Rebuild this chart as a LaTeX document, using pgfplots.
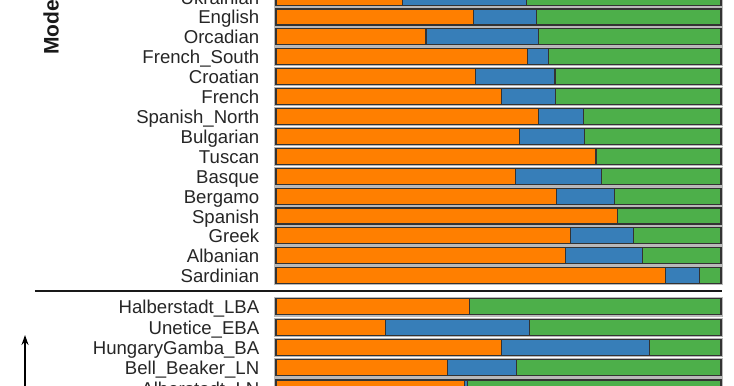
\documentclass[border=0pt]{standalone}
\usepackage{pgfplots}
\pgfplotsset{compat=1.18}
\usepackage{pgfplotstable}
\usepackage{fontspec}
\setmainfont{Liberation Sans}
\usetikzlibrary{arrows.meta}
\definecolor{cOr}{HTML}{FF7F00}
\definecolor{cBl}{HTML}{377EB8}
\definecolor{cGr}{HTML}{4DAF4A}

\pgfplotstableread{
y      orange blue green total
2.9    28.5   27.8 43.7  100
-17    44.3   14.3 41.4  100
-36.9  33.7   25.2 41.1  100
-56.8  56.6   4.6  38.8  100
-76.7  44.9   17.8 37.3  100
-96.6  50.6   12.3 37.1  100
-116.5 58.9   10.2 30.9  100
-136.4 54.8   14.6 30.6  100
-156.3 71.9   0    28.1  100
-176.2 53.9   19.3 26.8  100
-196.1 63.1   12.9 24.0  100
-216   76.8   0    23.2  100
-235.9 66.2   14.1 19.7  100
-255.8 65.0   17.4 17.6  100
-275.7 87.6   7.5  4.9   100
-306.8 43.4   0    56.6  100
-327.2 24.6   32.3 43.1  100
-347.6 50.6   33.4 16.0  100
-367.8 38.5   15.6 45.9  100
-388   42.4   0.6  57.0  100
}\data

\pgfplotsset{base/.style={
  x=4.45pt, y=1pt, xmin=0, xmax=100, ymin=-400, ymax=10,
  anchor=origin, at={(0,0)}, clip=false,
  axis line style={draw=none}, tick style={draw=none},
  xtick=\empty,
}}

\begin{document}
\begin{tikzpicture}
\begin{axis}[base, ytick=\empty, xbar, bar width=16pt]
\addplot[xbar, bar width=16pt, fill=none, draw=gray!55, line width=3.4pt] table[x=total, y=y] {\data};
\end{axis}
\begin{axis}[base, xbar stacked, bar width=16pt,
  ytick={2.9,-17,-36.9,-56.8,-76.7,-96.6,-116.5,-136.4,-156.3,-176.2,-196.1,-216,-235.9,-255.8,-275.7,-306.8,-327.2,-347.6,-367.8,-388},
  yticklabels={Ukrainian,English,Orcadian,French\_South,Croatian,French,Spanish\_North,Bulgarian,Tuscan,Basque,Bergamo,Spanish,Greek,Albanian,Sardinian,Halberstadt\_LBA,Unetice\_EBA,HungaryGamba\_BA,Bell\_Beaker\_LN,Alberstadt\_LN},
  yticklabel style={font=\fontsize{18.6}{20}\selectfont, text=black!85, inner sep=0pt, xshift=-16.5pt, text height=14pt, text depth=0pt},
]
\addplot[fill=cOr, draw=black!80, line width=1.1pt] table[x=orange, y=y] {\data};
\addplot[fill=cBl, draw=black!80, line width=1.1pt] table[x=blue, y=y] {\data};
\addplot[fill=cGr, draw=black!80, line width=1.1pt] table[x=green, y=y] {\data};
\draw[line width=2pt, black!90] (axis cs:-54.16,-290.5) -- (axis cs:100.2,-290.5);
\node[rotate=90, anchor=west, inner sep=0pt, font=\fontsize{21}{24}\selectfont\bfseries, text=black!90] at (axis cs:-50.56,-55) {Modern};
\draw[-{Stealth[length=10pt,width=7pt]}, line width=1.6pt] (axis cs:-56.40,-420) -- (axis cs:-56.40,-335);
\coordinate (TL) at (axis cs:-62.022,0);
\coordinate (BR) at (axis cs:102.921,-385);
\end{axis}
\pgfresetboundingbox
\useasboundingbox (TL) rectangle (BR);
\end{tikzpicture}
\end{document}
